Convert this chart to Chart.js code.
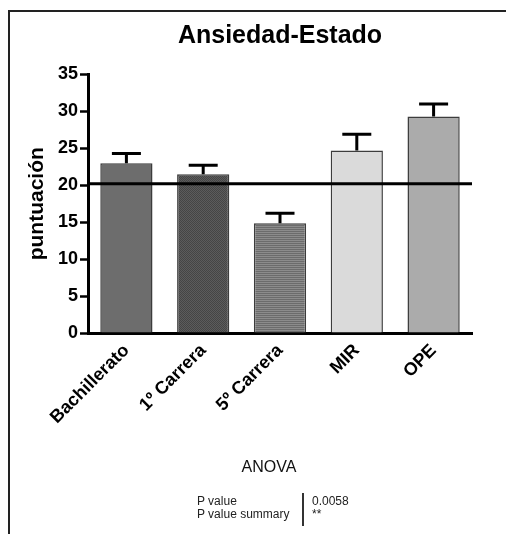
<!DOCTYPE html>
<html>
<head>
<meta charset="utf-8">
<script src="https://cdn.jsdelivr.net/npm/chart.js@4"></script>
<style>
  html, body { margin: 0; padding: 0; background: #fff; }
  #wrap { position: relative; width: 506px; height: 534px; overflow: hidden; font-family: "Liberation Sans", Arial, sans-serif; }
  #frame { position: absolute; left: 8px; top: 10px; width: 520px; height: 540px; border-left: 2px solid #222; border-top: 2px solid #222; }
  canvas { position: absolute; left: 0; top: 0; }
  .t { position: absolute; color: #000; white-space: nowrap; }
  #anova { left: 200px; width: 138px; text-align: center; top: 457px; font-size: 16px; line-height: 20px; color: #111; }
  .p { font-size: 12px; line-height: 13px; color: #222; }
  #sep { position: absolute; left: 302px; top: 493px; width: 2px; height: 33px; background: #333; }
</style>
</head>
<body>
<div id="wrap">
  <div id="frame"></div>
  <canvas id="c" width="506" height="534"></canvas>
  <div class="t" id="anova">ANOVA</div>
  <div class="t p" style="left:197px; top:495px;">P value<br>P value summary</div>
  <div id="sep"></div>
  <div class="t p" style="left:312px; top:495px;">0.0058<br>**</div>
</div>
<script>
const categories = ['Bachillerato', '1º Carrera', '5º Carrera', 'MIR', 'OPE'];
const means = [23.0, 21.5, 14.85, 24.7, 29.3];
const sem = [1.3, 1.2, 1.35, 2.2, 1.7];
const referenceValue = 20.2;
const yMin = 0, yMax = 35, yStep = 5;
const chartTitle = 'Ansiedad-Estado';
const yTitle = 'puntuación';

function makePattern(w, h, drawFn) {
  const c = document.createElement('canvas');
  c.width = w; c.height = h;
  const x = c.getContext('2d');
  drawFn(x);
  return document.getElementById('c').getContext('2d').createPattern(c, 'repeat');
}
const checker = makePattern(2, 2, x => {
  x.fillStyle = '#5c5c5c'; x.fillRect(0, 0, 2, 2);
  x.fillStyle = '#454545'; x.fillRect(0, 0, 1, 1); x.fillRect(1, 1, 1, 1);
});
const stripes = makePattern(2, 2, x => {
  x.fillStyle = '#8c8c8c'; x.fillRect(0, 0, 2, 1);
  x.fillStyle = '#6c6c6c'; x.fillRect(0, 1, 2, 1);
});
const fills = ['#6d6d6d', checker, stripes, '#dadada', '#ababab'];

const extras = {
  id: 'extras',
  afterDatasetsDraw(chart) {
    const {ctx, chartArea, scales} = chart;
    const meta = chart.getDatasetMeta(0);
    ctx.save();
    ctx.strokeStyle = '#000';
    ctx.lineWidth = 3;
    meta.data.forEach((bar, i) => {
      const yTop = scales.y.getPixelForValue(means[i] + sem[i]);
      const yBase = scales.y.getPixelForValue(means[i]);
      ctx.beginPath();
      ctx.moveTo(bar.x, yBase);
      ctx.lineTo(bar.x, yTop);
      ctx.moveTo(bar.x - 14.5, yTop);
      ctx.lineTo(bar.x + 14.5, yTop);
      ctx.stroke();
    });
    const yr = scales.y.getPixelForValue(referenceValue);
    ctx.beginPath();
    ctx.moveTo(chartArea.left, yr);
    ctx.lineTo(chartArea.right, yr);
    ctx.stroke();
    ctx.restore();
  }
};

const FONT = '"Liberation Sans", Arial, sans-serif';
new Chart(document.getElementById('c'), {
  type: 'bar',
  data: {
    labels: categories,
    datasets: [{
      data: means,
      backgroundColor: fills,
      borderColor: '#3c3c3c',
      borderWidth: 1.5,
      categoryPercentage: 1,
      barPercentage: 0.68
    }]
  },
  options: {
    responsive: false,
    animation: false,
    layout: { padding: { left: 10, right: 34, top: 0, bottom: 81 } },
    plugins: {
      legend: { display: false },
      tooltip: { enabled: false },
      title: {
        display: true,
        text: chartTitle,
        fullSize: false,
        color: '#000',
        font: { family: FONT, size: 25, weight: 'bold' },
        padding: { top: 21, bottom: 23.5 }
      }
    },
    scales: {
      x: {
        offset: true,
        grid: { display: true, drawOnChartArea: false, drawTicks: false, color: 'rgba(0,0,0,0)' },
        border: { display: true, color: '#000', width: 3 },
        ticks: {
          color: '#000',
          maxRotation: 45, minRotation: 45,
          padding: 7,
          font: { family: FONT, size: 18, weight: 'bold' }
        },
        afterFit(s) { s.height = 120; }
      },
      y: {
        min: yMin, max: yMax,
        ticks: {
          stepSize: yStep,
          color: '#000',
          padding: 2,
          font: { family: FONT, size: 18, weight: 'bold' }
        },
        grid: { display: true, drawOnChartArea: false, drawTicks: true, tickLength: 8, tickWidth: 2.5, tickColor: '#000', color: '#000' },
        border: { display: true, color: '#000', width: 3 },
        title: {
          display: true,
          text: yTitle,
          color: '#000',
          padding: { top: 15, bottom: 0 },
          font: { family: FONT, size: 21, weight: 'bold' }
        },
        afterFit(s) { s.width = 78; }
      }
    }
  },
  plugins: [extras]
});
</script>
</body>
</html>
